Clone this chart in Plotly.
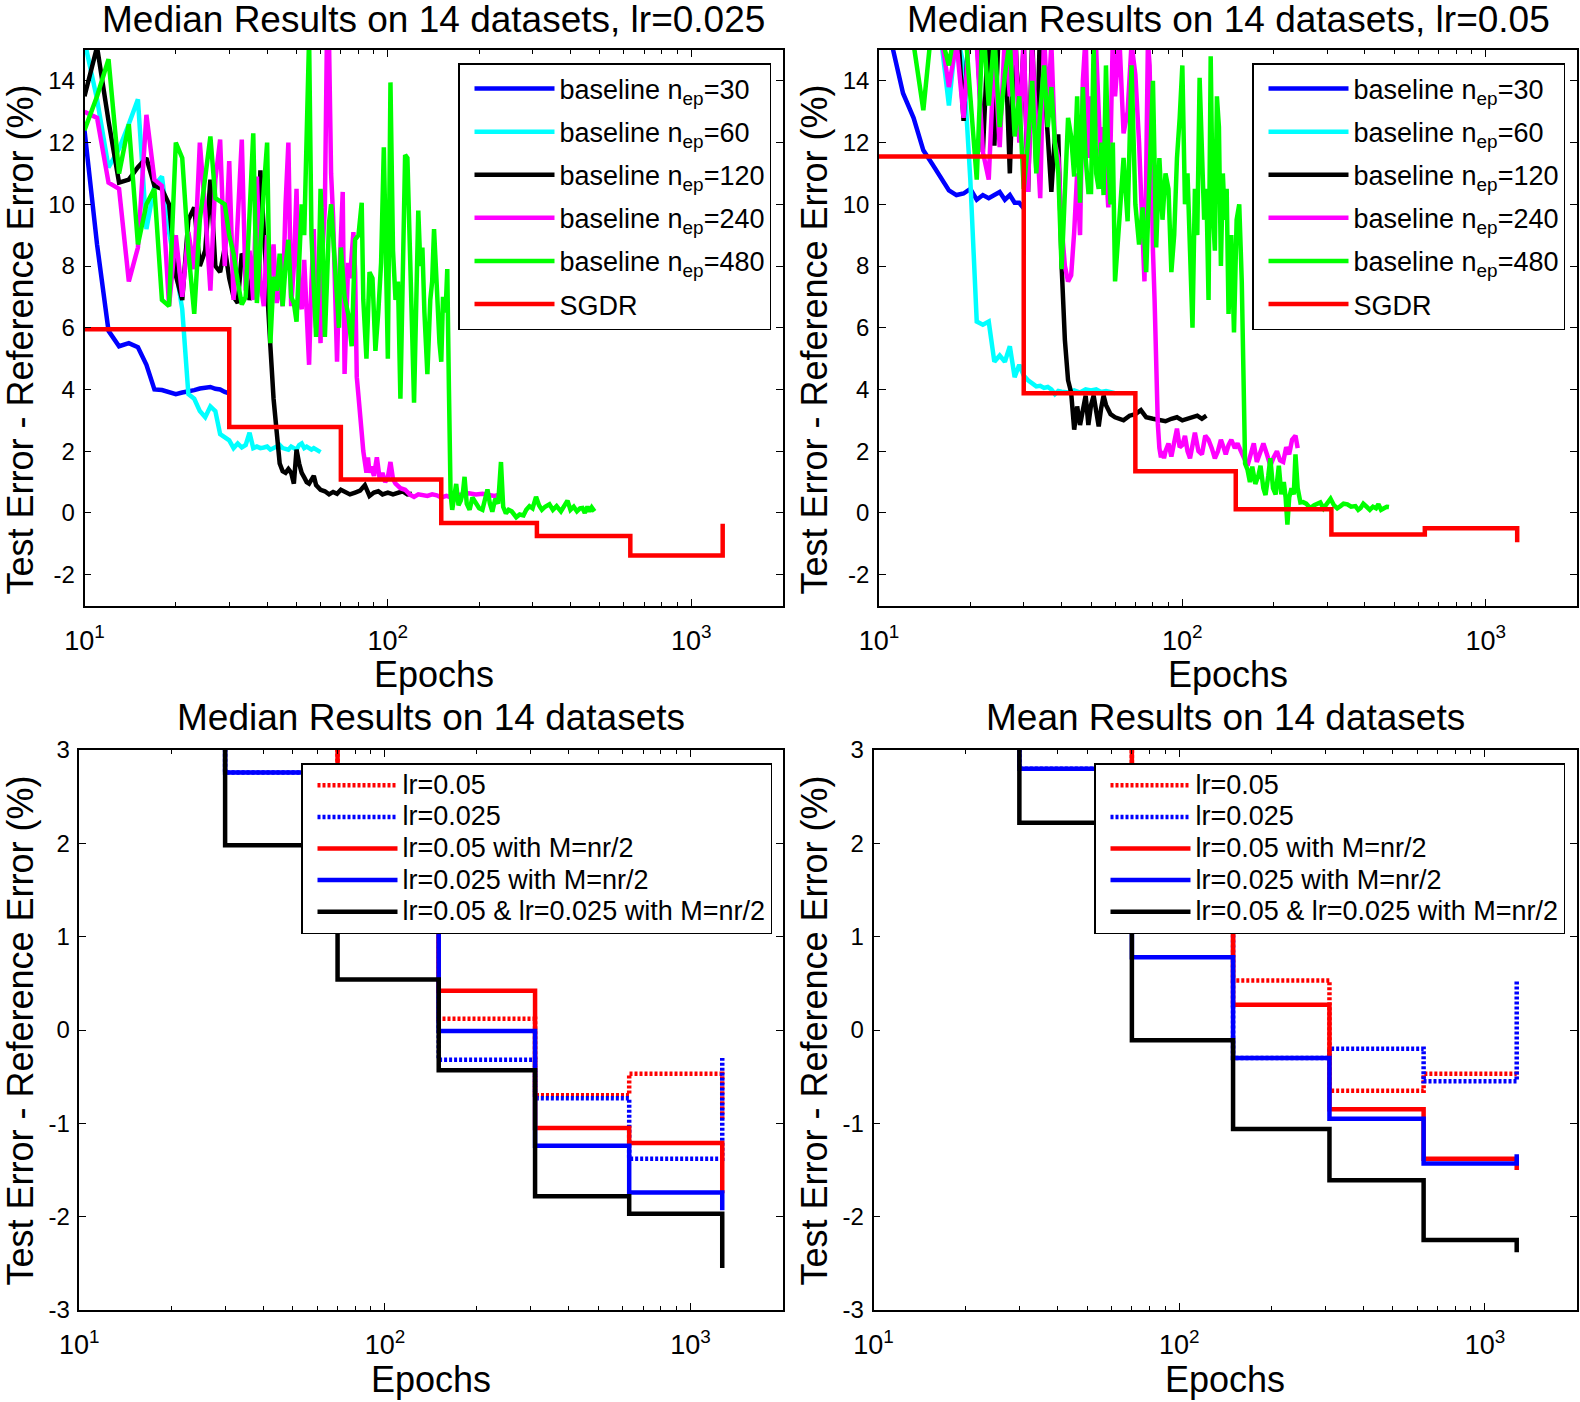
import plotly.graph_objects as go

FONT = "Liberation Sans, Arial, sans-serif"

# ---------------- tick labels ----------------
x_tickvals = [10, 100, 1000]
x_ticktext = ["10<sup>1</sup>", "10<sup>2</sup>", "10<sup>3</sup>"]
x_minor = [20, 30, 40, 50, 60, 70, 80, 90, 200, 300, 400, 500, 600, 700, 800, 900, 2000]
top_yticks = [-2, 0, 2, 4, 6, 8, 10, 12, 14]
top_yticktext = ["-2", "0", "2", "4", "6", "8", "10", "12", "14"]
bot_yticks = [-3, -2, -1, 0, 1, 2, 3]
bot_yticktext = ["-3", "-2", "-1", "0", "1", "2", "3"]

titles = ["Median Results on 14 datasets, lr=0.025",
          "Median Results on 14 datasets, lr=0.05",
          "Median Results on 14 datasets",
          "Mean Results on 14 datasets"]
xlabel = "Epochs"
ylabel = "Test Error - Reference Error (%)"

top_names = ["baseline n<sub>ep</sub>=30", "baseline n<sub>ep</sub>=60",
             "baseline n<sub>ep</sub>=120", "baseline n<sub>ep</sub>=240",
             "baseline n<sub>ep</sub>=480", "SGDR"]
top_colors = ["#0000FF", "#00FFFF", "#000000", "#FF00FF", "#00FF00", "#FF0000"]

bot_names = ["lr=0.05", "lr=0.025", "lr=0.05 with M=nr/2", "lr=0.025 with M=nr/2",
             "lr=0.05 & lr=0.025 with M=nr/2"]
bot_colors = ["#FF0000", "#0000FF", "#FF0000", "#0000FF", "#000000"]
bot_dashes = ["3px,2px", "3px,2px", None, None, None]

# ---------------- top-left: lr=0.025 ----------------
tl_b30 = [(10,12.4),(11,8.7),(12,5.9),(13,5.4),(14,5.5),(15,5.37),(16,4.8),(17,4.0),(18,3.98),
          (19,3.92),(20,3.85),(21,3.9),(22,3.93),(23,3.98),(24,4.03),(25,4.05),(26,4.08),(27,4.02),
          (28,4.0),(29,3.92),(30,3.87)]
tl_b60 = [(10,15.3),(11,13.4),(12,11.2),(13,11.8),(14,12.6),(15,13.4),(16,9.2),(17,10.6),(18,10.9),
          (19,9.1),(20,7.9),(21,6.6),(22,3.85),(23,3.7),(24,3.3),(25,3.1),(26,3.45),(27,3.3),(28,2.55),
          (29,2.45),(30,2.35),(31,2.1),(32,2.25),(33,2.12),(34,2.2),(35,2.6),(36,2.1),(37,2.15),(38,2.1),
          (39,2.12),(40,2.15),(41,2.05),(42,2.1),(43,2.12),(44,2.2),(45,2.1),(46,2.08),(47,2.05),(48,2.15),
          (49,2.1),(50,2.05),(51,2.2),(52,2.25),(53,2.1),(54,2.15),(55,2.1),(56,2.05),(57,2.1),(58,2.05),
          (59,2.0),(60,1.97)]
tl_b120 = [(10,13.5),(11,15.1),(12,12.7),(13,10.7),(14,10.8),(15,11.2),(16,11.5),(17,10.6),(18,10.5),
           (19,10.0),(20,7.7),(21,6.9),(22,9.5),(23,9.9),(24,8.0),(25,8.5),(26,10.8),(27,8.0),(28,7.8),
           (29,8.6),(30,7.6),(31,7.0),(32,6.8),(33,8.4),(34,8.2),(35,6.9),(36,7.5),(37,7.0),(38,11.1),
           (39,9.0),(40,7.2),(41,5.4),(42,3.7),(43,2.4),(44,1.6),(45,1.35),(46,1.3),(47,1.42),(48,1.3),
           (49,0.95),(50,2.05),(51,1.6),(52,1.3),(53,1.15),(54,1.0),(55,0.95),(56,1.1),(57,1.2),(58,0.9),
           (59,0.8),(60,0.75),(62,0.7),(64,0.6),(66,0.68),(68,0.62),(70,0.75),(72,0.7),(75,0.6),(78,0.66),
           (81,0.72),(84,0.9),(87,0.55),(90,0.66),(93,0.7),(96,0.6),(100,0.66),(104,0.6),(108,0.66),
           (112,0.7),(116,0.6),(120,0.62)]
tl_b240 = [(10,13.0),(11,12.8),(12,10.7),(13,10.5),(14,7.5),(15,8.6),(16,12.9),(17,10.8),(18,10.6),
           (19,6.7),(20,9.0),(21,7.0),(22,9.1),(23,7.9),(24,12.0),(25,9.8),(26,7.2),(27,10.8),(28,12.1),
           (29,8.0),(30,11.4),(31,6.9),(32,9.5),(33,12.1),(34,7.2),(35,8.5),(36,6.9),(37,10.9),(38,7.5),
           (39,6.7),(40,9.0),(41,7.6),(42,8.7),(43,6.8),(44,7.5),(45,6.7),(46,10.0),(47,12.0),(48,6.7),
           (49,8.0),(50,10.5),(51,7.0),(52,6.6),(53,8.2),(54,6.5),(55,4.8),(56,7.5),(57,9.2),(58,6.0),
           (59,7.7),(60,5.5),(61,8.6),(62,9.9),(63,15.6),(64,15.2),(65,11.0),(66,9.6),(67,7.0),(68,4.9),
           (69,7.4),(70,9.5),(71,10.4),(72,4.5),(73,6.5),(74,8.1),(75,7.6),(76,8.5),(77,9.1),(78,7.8),
           (79,4.4),(80,3.8),(81,2.9),(82,2.6),(83,2.0),(84,1.6),(85,1.3),(86,1.8),(87,1.3),(88,1.5),
           (90,1.2),(92,1.8),(94,1.1),(96,1.3),(98,1.0),(100,1.15),(102,1.65),(104,1.1),(106,0.95),
           (110,0.8),(114,0.75),(118,0.6),(122,0.52),(126,0.6),(130,0.58),(135,0.55),(140,0.6),
           (145,0.57),(150,0.5),(156,0.55),(162,0.5),(168,0.58),(175,0.6),(185,0.64),(195,0.6),
           (205,0.62),(215,0.58),(225,0.55),(235,0.6),(240,0.58)]
tl_b480 = [(10,12.4),(11,13.5),(12,14.7),(13,11.0),(14,12.6),(15,8.7),(16,10.0),(17,10.5),(18,6.9),
           (19,6.7),(20,12.0),(21,11.5),(22,8.5),(23,6.45),(24,9.5),(25,11.0),(26,12.2),(27,10.2),
           (28,10.1),(29,10.0),(30,9.0),(31,8.4),(32,7.5),(33,6.75),(34,7.0),(35,9.5),(36,12.3),(37,6.8),
           (38,9.0),(39,10.5),(40,12.0),(41,5.5),(42,7.65),(43,7.2),(44,8.4),(45,6.7),(46,8.0),(47,8.85),
           (48,7.0),(49,6.8),(50,6.2),(51,8.5),(52,10.0),(53,9.0),(54,12.0),(55,15.4),(56,9.0),(57,7.5),
           (58,5.7),(59,7.2),(60,10.5),(61,8.8),(62,5.7),(63,7.5),(64,9.4),(65,10.0),(66,9.0),(67,7.65),
           (68,7.2),(69,6.0),(70,8.6),(71,7.8),(72,7.0),(74,6.45),(76,5.4),(78,8.85),(80,9.0),(82,10.05),
           (83,6.9),(85,5.0),(87,7.8),(89,7.6),(91,5.25),(93,6.5),(95,8.1),(97,11.85),(99,8.0),(100,5.0),
           (102,13.95),(104,8.5),(106,6.9),(108,7.5),(110,3.7),(112,8.0),(114,11.6),(116,11.5),(118,8.2),
           (120,6.2),(122,3.57),(124,7.0),(126,9.8),(128,8.0),(130,8.6),(132,6.5),(135,4.5),(138,6.9),
           (140,7.5),(142,9.2),(145,6.9),(148,5.5),(150,4.9),(152,7.0),(155,6.5),(157,7.9),(159,4.0),
           (161,0.6),(163,0.1),(165,0.5),(168,0.94),(171,0.25),(174,0.4),(177,0.7),(179,1.17),(182,0.3),
           (186,0.1),(190,0.5),(195,0.34),(200,0.15),(205,0.1),(210,0.45),(213,0.76),(217,0.3),(221,0.04),
           (226,0.46),(231,0.3),(236,1.65),(240,0.2),(245,-0.02),(250,0.1),(256,0.05),(265,-0.14),
           (272,-0.05),(280,-0.08),(286,0.1),(293,0.22),(300,0.15),(308,0.52),(315,0.25),(322,0.1),
           (330,0.2),(341,0.28),(350,0.1),(360,0.22),(372,0.05),(383,0.3),(391,0.4),(400,0.1),(410,0.2),
           (420,0.05),(430,0.15),(438,0.16),(446,0.0),(455,0.2),(462,0.05),(470,0.18),(480,0.05)]
tl_sgdr_x = [10, 30, 70, 150, 310, 630, 1270]
tl_sgdr_y = [5.95, 2.78, 1.08, -0.33, -0.75, -1.38, -0.35]

# ---------------- top-right: lr=0.05 ----------------
tr_b30 = [(10,17.0),(11,15.2),(12,13.6),(13,12.8),(14,11.75),(15,11.3),(16,10.85),(17,10.45),(18,10.3),
          (19,10.35),(20,10.5),(21,10.15),(22,10.3),(23,10.2),(24,10.3),(25,10.4),(26,10.15),(27,10.3),
          (28,10.05),(29,10.05),(30,9.87)]
tr_b60 = [(10,19.0),(11,18.0),(12,17.5),(13,17.0),(14,16.5),(15,16.0),(16,15.4),(17,13.2),(18,15.6),
          (19,14.5),(20,10.8),(21,6.2),(22,6.1),(23,6.2),(24,4.9),(25,5.1),(26,4.9),(27,5.4),(28,4.4),
          (29,4.8),(30,4.45),(31,4.3),(32,4.2),(33,4.1),(34,4.12),(35,4.05),(36,4.08),(37,4.0),(38,3.85),
          (39,3.95),(40,3.93),(42,3.9),(44,3.97),(46,3.9),(48,4.0),(50,3.97),(52,4.0),(54,3.92),(56,3.95),
          (58,3.9),(60,3.88)]
tr_b120 = [(10,17.0),(11,16.5),(12,18.0),(13,16.5),(14,17.5),(15,16.0),(16,17.0),(17,15.8),(18,16.5),
           (19,12.7),(20,16.5),(21,15.6),(22,11.7),(23,16.0),(24,11.9),(25,16.5),(26,15.5),(27,11.0),
           (28,16.0),(29,12.5),(30,15.2),(31,10.4),(32,15.5),(33,11.1),(34,16.0),(35,14.0),(36,12.5),
           (37,10.4),(38,12.2),(39,12.2),(40,8.0),(41,5.6),(42,4.3),(43,3.9),(44,2.7),(45,3.45),(46,2.85),
           (47,3.35),(48,3.8),(49,2.85),(50,3.5),(51,3.8),(52,3.3),(53,2.8),(54,3.4),(55,3.8),(56,3.5),
           (57,3.3),(58,3.2),(60,3.1),(62,3.05),(64,3.0),(67,3.15),(70,3.2),(73,3.33),(76,3.1),(80,3.05),
           (84,3.0),(88,2.97),(92,3.05),(96,3.1),(100,3.0),(104,3.05),(108,3.1),(112,3.15),(116,3.05),
           (120,3.15)]
tr_b240 = [(10,17.0),(11,16.0),(12,17.0),(13,16.5),(14,15.8),(15,16.5),(16,15.5),(17,13.8),(18,15.3),
           (19,12.8),(20,16.0),(21,15.2),(22,11.7),(23,10.8),(24,15.0),(25,11.85),(26,15.5),(27,13.5),
           (28,16.0),(29,12.0),(30,15.5),(31,10.4),(32,15.0),(33,12.5),(34,10.2),(35,15.5),(36,13.0),
           (37,15.2),(38,12.0),(39,11.5),(40,9.3),(41,8.0),(42,7.5),(43,7.7),(44,9.1),(45,11.0),(46,9.0),
           (47,14.0),(48,15.5),(49,11.5),(50,13.5),(51,12.0),(52,15.0),(53,13.0),(54,11.0),(55,12.5),
           (56,10.8),(57,9.9),(58,12.0),(59,15.5),(60,13.5),(62,15.4),(64,12.3),(66,13.0),(68,15.2),
           (70,14.2),(72,12.0),(74,8.4),(75,7.5),(76,11.0),(77,15.3),(78,14.5),(79,10.0),(80,8.5),(81,6.9),
           (82,4.5),(83,2.9),(84,2.1),(85,1.8),(86,2.0),(87,1.77),(88,2.0),(90,2.25),(92,1.83),(94,2.3),
           (96,2.73),(98,2.13),(100,2.2),(102,2.5),(104,2.0),(106,1.77),(108,2.2),(110,2.6),(113,2.0),
           (116,1.9),(119,2.5),(122,2.37),(125,2.1),(128,1.77),(131,2.0),(134,2.37),(137,2.1),(139,1.9),
           (142,2.2),(145,2.37),(149,2.1),(152,2.25),(156,2.0),(160,1.77),(164,1.53),(168,1.9),(172,2.25),
           (176,1.65),(180,1.9),(185,2.25),(190,1.9),(195,1.53),(200,1.8),(205,2.0),(210,1.7),(215,1.65),
           (220,2.13),(225,1.9),(230,2.37),(236,2.5),(240,2.1)]
tr_b480 = [(10,17.0),(11,16.0),(12,15.8),(13,15.2),(14,13.05),(15,16.0),(16,15.5),(17,14.5),(18,16.0),
           (19,16.5),(20,13.5),(21,10.8),(22,16.0),(23,13.2),(24,15.5),(25,12.5),(26,14.2),(27,15.3),
           (28,12.2),(29,13.5),(30,10.5),(31,12.0),(32,14.0),(33,11.0),(34,13.0),(35,14.5),(36,12.5),
           (37,13.8),(38,12.0),(39,11.0),(40,7.9),(41,10.5),(42,12.8),(43,12.2),(44,10.9),(45,13.5),
           (46,10.05),(47,13.8),(48,11.5),(49,10.4),(50,10.4),(51,15.2),(52,11.0),(53,10.5),(54,12.0),
           (55,10.3),(56,14.5),(57,11.5),(58,10.0),(59,12.0),(60,7.5),(62,9.5),(64,11.5),(66,9.45),
           (68,14.5),(70,10.0),(72,8.7),(74,9.9),(76,7.8),(78,11.0),(80,14.0),(82,8.6),(84,11.5),(86,9.5),
           (88,11.0),(90,10.5),(92,7.8),(94,9.0),(96,11.5),(98,12.8),(100,14.5),(102,10.0),(104,11.0),
           (106,8.5),(108,6.0),(110,10.5),(112,9.0),(114,14.1),(116,11.5),(118,9.5),(120,10.5),(122,6.9),
           (124,14.8),(126,9.8),(128,8.5),(130,13.5),(132,12.5),(134,8.0),(136,11.0),(138,9.5),(140,10.5),
           (142,6.45),(145,9.0),(148,5.85),(151,9.5),(154,10.0),(157,7.5),(159,4.8),(161,1.6),(164,1.4),
           (167,1.0),(170,1.5),(174,0.94),(178,1.2),(181,1.53),(185,0.8),(188,0.58),(192,1.2),(195,1.77),
           (199,0.8),(203,0.6),(208,1.53),(212,0.6),(216,1.0),(219,0.5),(222,-0.38),(225,0.5),(229,0.8),
           (233,0.6),(236,1.9),(240,0.8),(245,0.34),(250,0.35),(256,0.3),(264,0.16),(272,0.25),(280,0.3),
           (285,0.34),(292,0.15),(300,0.3),(308,0.46),(316,0.25),(324,0.15),(332,0.22),(340,0.3),
           (350,0.28),(360,0.2),(372,0.22),(380,0.1),(387,0.16),(395,0.3),(405,0.2),(415,0.1),(425,0.2),
           (435,0.15),(443,0.28),(452,0.1),(462,0.15),(472,0.2),(480,0.19)]
tr_sgdr_x = [10, 30, 70, 150, 310, 630, 1270]
tr_sgdr_y = [11.55, 3.88, 1.35, 0.12, -0.7, -0.5, -0.95]

# ---------------- bottom: restart epochs and step values ----------------
restart_epochs = [10, 30, 70, 150, 310, 630, 1270]
bl_lr05 = [11.55, 3.9, 1.35, 0.12, -0.7, -0.47, -0.95]
bl_lr025 = [5.95, 2.76, 1.08, -0.32, -0.73, -1.38, -0.3]
bl_lr05_m = [11.5, 3.9, 1.4, 0.42, -1.05, -1.21, -1.75]
bl_lr025_m = [5.9, 2.76, 1.5, -0.01, -1.24, -1.74, -1.93]
bl_both_m = [5.9, 1.98, 0.54, -0.43, -1.78, -1.97, -2.55]

br_lr05 = [11.0, 3.5, 1.6, 0.53, -0.65, -0.47, -0.5]
br_lr025 = [6.0, 2.8, 1.2, -0.3, -0.2, -0.55, 0.52]
br_lr05_m = [11.0, 3.6, 1.1, 0.27, -0.85, -1.38, -1.5]
br_lr025_m = [6.0, 2.8, 0.78, -0.3, -0.95, -1.43, -1.33]
br_both_m = [6.0, 2.22, -0.11, -1.06, -1.61, -2.25, -2.38]

# ---------------- figure ----------------
W, H = 1580, 1402
fig = go.Figure()

LW = 4.5


def add_line(xs, ys, name, color, ax, leg, dash=None, shape="linear"):
    fig.add_trace(go.Scatter(
        x=xs, y=ys, mode="lines", name=name,
        line=dict(color=color, width=LW, dash=dash, shape=shape),
        xaxis="x" + ax, yaxis="y" + ax, legend=leg,
        legendgroup=leg + name, hoverinfo="skip"))


def unzip(pairs):
    return [p[0] for p in pairs], [p[1] for p in pairs]


tl_series = [tl_b30, tl_b60, tl_b120, tl_b240, tl_b480]
tr_series = [tr_b30, tr_b60, tr_b120, tr_b240, tr_b480]
for s, nm, c in zip(tl_series, top_names[:5], top_colors[:5]):
    xs, ys = unzip(s)
    add_line(xs, ys, nm, c, "", "legend")
add_line(tl_sgdr_x, tl_sgdr_y, top_names[5], top_colors[5], "", "legend", shape="hv")

for s, nm, c in zip(tr_series, top_names[:5], top_colors[:5]):
    xs, ys = unzip(s)
    add_line(xs, ys, nm, c, "2", "legend2")
add_line(tr_sgdr_x, tr_sgdr_y, top_names[5], top_colors[5], "2", "legend2", shape="hv")

BOT_LEG_TEXT = '<span style="font-size:27px">{}</span>'
for ys, nm, c, d in zip([bl_lr05, bl_lr025, bl_lr05_m, bl_lr025_m, bl_both_m],
                        bot_names, bot_colors, bot_dashes):
    add_line(restart_epochs, ys, BOT_LEG_TEXT.format(nm), c, "3", "legend3", dash=d, shape="hv")
for ys, nm, c, d in zip([br_lr05, br_lr025, br_lr05_m, br_lr025_m, br_both_m],
                        bot_names, bot_colors, bot_dashes):
    add_line(restart_epochs, ys, BOT_LEG_TEXT.format(nm), c, "4", "legend4", dash=d, shape="hv")

# ---------------- layout geometry (pixels) ----------------
# [row][col] -> (left, right)
col_px = [[(84.5, 782.5), (879, 1577)], [(79.3, 782.5), (873.5, 1577)]]
row_px = [(50, 605.5), (750, 1310)]


def xdom(r, c):
    return [col_px[r][c][0] / W, col_px[r][c][1] / W]


def ydom(r):
    return [1 - row_px[r][1] / H, 1 - row_px[r][0] / H]


common = dict(showline=True, linecolor="black", linewidth=1.5, mirror="allticks",
              ticks="inside", ticklen=7, tickwidth=1.2, tickcolor="black",
              showgrid=False, zeroline=False)


def xaxis_cfg(r, c, anchor):
    return dict(common, domain=xdom(r, c), anchor=anchor, type="log", range=[1, 3.301],
                tickvals=x_tickvals, ticktext=x_ticktext, ticklabelstandoff=10,
                tickfont=dict(family=FONT, size=27, color="black"),
                minor=dict(tickvals=x_minor, ticks="inside", ticklen=4, tickwidth=1.2,
                           tickcolor="black", showgrid=False))


def yaxis_cfg(r, anchor, rng, tv, tt):
    return dict(common, domain=ydom(r), anchor=anchor, range=rng, tickvals=tv, ticktext=tt,
                ticklabelstandoff=3, tickfont=dict(family=FONT, size=24, color="black"))


layout = dict(
    width=W, height=H, margin=dict(l=0, r=0, t=0, b=0, pad=0, autoexpand=False),
    paper_bgcolor="white", plot_bgcolor="white", showlegend=True,
    font=dict(family=FONT, color="black"),
    xaxis=xaxis_cfg(0, 0, "y"), yaxis=yaxis_cfg(0, "x", [-3, 15], top_yticks, top_yticktext),
    xaxis2=xaxis_cfg(0, 1, "y2"), yaxis2=yaxis_cfg(0, "x2", [-3, 15], top_yticks, top_yticktext),
    xaxis3=xaxis_cfg(1, 0, "y3"), yaxis3=yaxis_cfg(1, "x3", [-3, 3], bot_yticks, bot_yticktext),
    xaxis4=xaxis_cfg(1, 1, "y4"), yaxis4=yaxis_cfg(1, "x4", [-3, 3], bot_yticks, bot_yticktext),
)


def leg_cfg(right_px, top_px, gap, fsize):
    return dict(x=right_px / W, y=1 - top_px / H, xanchor="right", yanchor="top",
                bgcolor="white", bordercolor="black", borderwidth=1.5,
                font=dict(family=FONT, size=fsize, color="black"),
                traceorder="grouped", tracegroupgap=gap, itemwidth=80, indentation=10)


layout["legend"] = leg_cfg(771, 63, 5, 27)
layout["legend2"] = leg_cfg(1565, 63, 5, 27)
layout["legend3"] = leg_cfg(772, 763, 0, 22)
layout["legend4"] = leg_cfg(1565, 763, 0, 22)

fig.update_layout(**layout)

# ---------------- text annotations ----------------
ann = []
title_y = [20, 717]
xlabel_y = [674, 1379]
ylabel_y = [340, 1031]
ylabel_x = [19.5, 813.5]
for r in range(2):
    for c in range(2):
        cx = (col_px[r][c][0] + col_px[r][c][1]) / 2 / W
        ann.append(dict(text=titles[r * 2 + c], x=cx, y=1 - title_y[r] / H, xref="paper", yref="paper",
                        xanchor="center", yanchor="middle", showarrow=False,
                        font=dict(family=FONT, size=37, color="black")))
        ann.append(dict(text=xlabel, x=cx, y=1 - xlabel_y[r] / H, xref="paper", yref="paper",
                        xanchor="center", yanchor="middle", showarrow=False,
                        font=dict(family=FONT, size=36, color="black")))
        ann.append(dict(text=ylabel, x=ylabel_x[c] / W, y=1 - ylabel_y[r] / H, xref="paper",
                        yref="paper", xanchor="center", yanchor="middle", showarrow=False,
                        textangle=-90, font=dict(family=FONT, size=36, color="black")))
fig.update_layout(annotations=ann)

fig.write_html(
    "out.html",
    config={"displayModeBar": False, "responsive": False},
    post_script="document.body.style.margin='0px';document.body.style.padding='0px';"
                "document.documentElement.style.overflow='hidden';")
